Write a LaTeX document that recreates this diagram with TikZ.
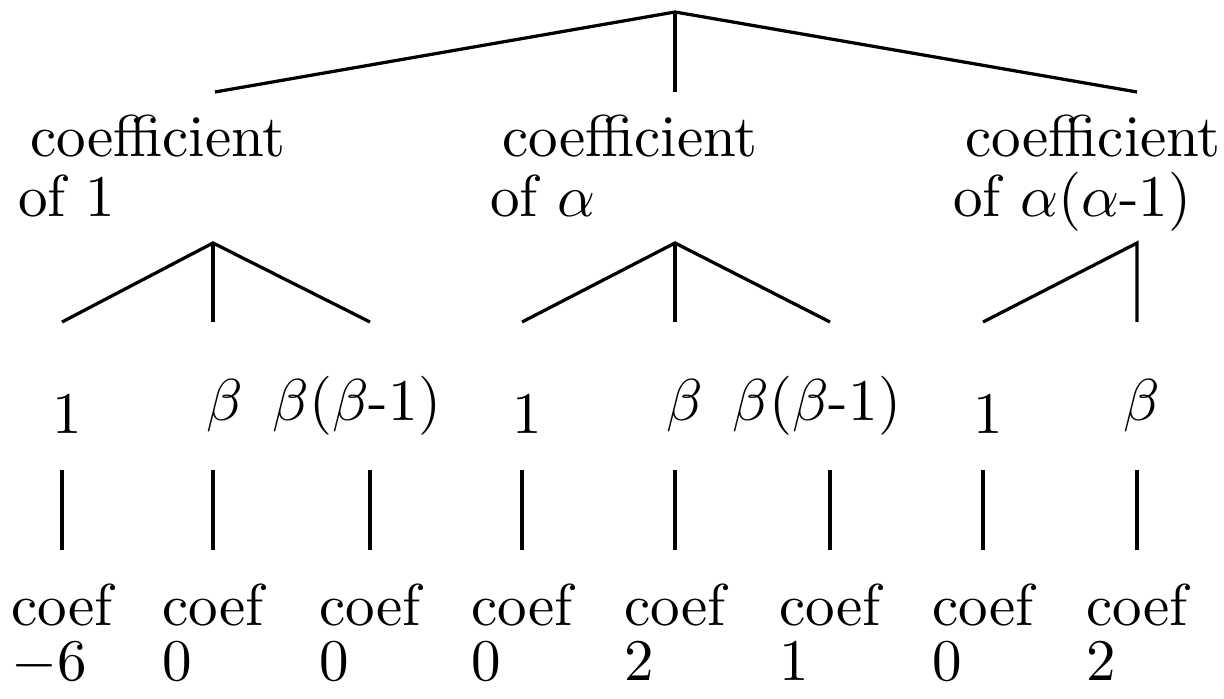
\documentclass[tikz,border=0pt]{standalone}
\usepackage{tikz}

\begin{document}
\begin{tikzpicture}[x=0.1694pt,y=-0.1694pt,every node/.style={inner sep=0pt,outer sep=0pt},branch/.style={line width=0.55pt},label/.style={anchor=base west},term/.style={anchor=base},leaf/.style={anchor=north,align=left,font=\fontsize{10}{9.3}\selectfont}]
\useasboundingbox (0,0) rectangle (1224,698);
% top level
\coordinate (root) at (675,12);
\foreach \n/\x in {1/215,2/675,3/1137} \coordinate (k\n) at (\x,92);
\draw[branch] (k1) -- (root) -- (k3);
\draw[branch] (root) -- (k2);
\node[label] (coefA) at (30,157) {coefficient}; \node[label] (ofA) at (18,217) {of 1};
\node[label] (coefB) at (502,157) {coefficient}; \node[label] (ofB) at (490,217) {of $\alpha$};
\node[label] (coefC) at (965,157) {coefficient}; \node[label] (ofC) at (953,217) {of $\alpha$($\alpha$-1)};
% second level
\foreach \n/\x in {1/213,2/675,3/1137} \coordinate (a\n) at (\x,243);
\foreach \i/\x in {1/62,2/213,3/370,4/522,5/675,6/830,7/983,8/1137} \coordinate (e\i) at (\x,322);
\draw[branch] (e1) -- (a1) -- (e3); \draw[branch] (a1) -- (e2);
\draw[branch] (e4) -- (a2) -- (e6); \draw[branch] (a2) -- (e5);
\draw[branch] (e7) -- (a3) -- (e8);
\node[term] (oneA) at (67,433) {1}; \node[term] (betaA) at (225,420) {$\beta$}; \node[term] (bbA) at (357,420) {$\beta$($\beta$-1)};
\node[term] (oneB) at (527,433) {1}; \node[term] (betaB) at (685,420) {$\beta$}; \node[term] (bbB) at (817,420) {$\beta$($\beta$-1)};
\node[term] (oneC) at (988,433) {1}; \node[term] (betaC) at (1142,420) {$\beta$};
% leaves
\foreach \i/\x/\v in {1/62/$-6$,2/213/0,3/370/0,4/522/0,5/675/2,6/830/1,7/983/0,8/1137/2}{
  \coordinate (t\i) at (\x,470); \coordinate (b\i) at (\x,550);
  \draw[branch] (t\i) -- (b\i);
  \node[leaf] (leaf\i) at (\x,584) {coef\\\v};
}
\end{tikzpicture}
\end{document}
